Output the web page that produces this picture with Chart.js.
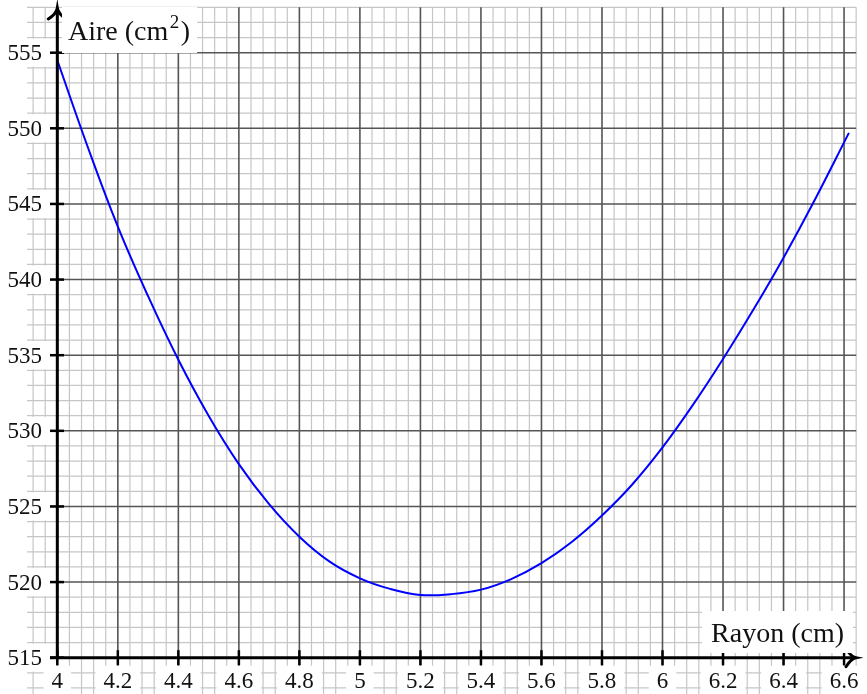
<!DOCTYPE html>
<html lang="fr">
<head>
    <meta charset="UTF-8">
    <title>Aire en fonction du rayon</title>
    <script src="https://cdn.jsdelivr.net/npm/chart.js"></script>
    <style>
        body, html {
            margin: 0;
            padding: 0;
            background: #fff;
            overflow: hidden;
        }
        canvas {
            display: block;
        }
    </style>
</head>
<body>
    <canvas id="aireChart" width="867" height="694"></canvas>

    <script>
        // valeurs
        const rayon = [4, 4.1, 4.2, 4.3, 4.4, 4.5, 4.6, 4.7, 4.8, 4.9, 5, 5.1, 5.2, 5.3, 5.4, 5.5, 5.6, 5.7, 5.8, 5.9, 6, 6.1, 6.2, 6.3, 6.4, 6.5, 6.616];
        const aire = [554.5, 548.8, 543.5, 538.9, 534.7, 531.0, 527.8, 525.15, 523.0, 521.35, 520.25, 519.55, 519.15, 519.2, 519.5, 520.2, 521.25, 522.65, 524.4, 526.45, 528.9, 531.7, 534.75, 538.0, 541.45, 545.15, 549.7];

        const xTicks = ['4', '4.2', '4.4', '4.6', '4.8', '5', '5.2', '5.4', '5.6', '5.8', '6', '6.2', '6.4', '6.6'];
        const yTicks = ['515', '520', '525', '530', '535', '540', '545', '550', '555'];

        const xLabel = 'Rayon (cm)';
        const yLabel = 'Aire (cm';
        const yLabelSup = '2';

        const tickFont = '23px "Liberation Serif", serif';
        const labelFont = '28px "Liberation Serif", serif';
        const supFont = '19px "Liberation Serif", serif';

        // papier millimétré + axes
        const papier = {
            id: 'papier',
            beforeDatasetsDraw(chart) {
                const ctx = chart.ctx;
                const sx = chart.scales.x, sy = chart.scales.y;
                const x0 = sx.getPixelForValue(3.9), x1 = sx.getPixelForValue(6.64);
                const yTop = sy.getPixelForValue(558), yBot = chart.height;

                ctx.save();
                ctx.lineWidth = 1.2;
                ctx.strokeStyle = '#c6c6c6';
                for (let i = 98; i <= 166; i++) {
                    if (i % 5 === 0) continue;
                    const px = sx.getPixelForValue(i * 0.04);
                    ctx.beginPath(); ctx.moveTo(px, yTop); ctx.lineTo(px, yBot); ctx.stroke();
                }
                for (let v = 513; v <= 558; v++) {
                    if (v % 5 === 0) continue;
                    const py = sy.getPixelForValue(v);
                    ctx.beginPath(); ctx.moveTo(x0, py); ctx.lineTo(x1, py); ctx.stroke();
                }

                ctx.lineWidth = 1.6;
                ctx.strokeStyle = '#555';
                xTicks.forEach(t => {
                    const px = sx.getPixelForValue(parseFloat(t));
                    ctx.beginPath(); ctx.moveTo(px, yTop); ctx.lineTo(px, yBot); ctx.stroke();
                });
                yTicks.forEach(t => {
                    const py = sy.getPixelForValue(parseFloat(t));
                    ctx.beginPath(); ctx.moveTo(x0, py); ctx.lineTo(x1, py); ctx.stroke();
                });
                ctx.restore();
            },
            afterDatasetsDraw(chart) {
                const ctx = chart.ctx;
                const sx = chart.scales.x, sy = chart.scales.y;
                const ax = sx.getPixelForValue(4), ay = sy.getPixelForValue(515);
                const topY = 8, rightX = 856;

                ctx.save();
                ctx.font = tickFont;

                // étiquettes de l'axe vertical
                yTicks.forEach(t => {
                    const py = sy.getPixelForValue(parseFloat(t));
                    ctx.fillStyle = '#fff';
                    ctx.fillRect(0, py - 14, 50, 28);
                    ctx.fillStyle = '#111';
                    ctx.textAlign = 'right';
                    ctx.fillText(t, 42, py + 7.5);
                });
                // étiquettes de l'axe horizontal
                xTicks.forEach(t => {
                    const px = sx.getPixelForValue(parseFloat(t));
                    const w = ctx.measureText(t).width;
                    ctx.fillStyle = '#fff';
                    ctx.fillRect(px - w / 2 - 8, ay + 8, w + 16, chart.height - ay);
                    ctx.fillStyle = '#111';
                    ctx.textAlign = 'center';
                    ctx.fillText(t, px, 688);
                });

                // axes
                ctx.strokeStyle = '#000';
                ctx.lineWidth = 3;
                ctx.beginPath();
                ctx.moveTo(ax, ay + 1.5); ctx.lineTo(ax, topY + 2);
                ctx.moveTo(50, ay); ctx.lineTo(rightX - 2, ay);
                ctx.stroke();

                ctx.lineWidth = 2.5;
                yTicks.forEach(t => {
                    const py = sy.getPixelForValue(parseFloat(t));
                    ctx.beginPath(); ctx.moveTo(50, py); ctx.lineTo(64, py); ctx.stroke();
                });
                xTicks.forEach(t => {
                    const px = sx.getPixelForValue(parseFloat(t));
                    ctx.beginPath(); ctx.moveTo(px, ay - 7.5); ctx.lineTo(px, ay + 7.5); ctx.stroke();
                });

                // pointes de flèches
                ctx.lineWidth = 3;
                ctx.lineCap = 'round';
                ctx.beginPath();
                ctx.moveTo(ax - 9, topY + 11);
                ctx.quadraticCurveTo(ax - 1, topY + 6, ax, topY);
                ctx.quadraticCurveTo(ax + 1, topY + 6, ax + 9, topY + 11);
                ctx.moveTo(rightX - 10, ay - 9);
                ctx.quadraticCurveTo(rightX - 5, ay - 1, rightX, ay);
                ctx.quadraticCurveTo(rightX - 5, ay + 1, rightX - 10, ay + 9);
                ctx.stroke();

                // titres des axes
                ctx.font = labelFont;
                ctx.textAlign = 'left';
                const wA = ctx.measureText(yLabel).width;
                ctx.font = supFont;
                const w2 = ctx.measureText(yLabelSup).width;
                ctx.font = labelFont;
                const wP = ctx.measureText(')').width;
                ctx.fillStyle = '#fff';
                ctx.fillRect(62, 7, wA + w2 + wP + 16, 46);
                ctx.fillStyle = '#111';
                ctx.fillText(yLabel, 68, 40);
                ctx.font = supFont;
                ctx.fillText(yLabelSup, 68 + wA + 1.5, 28);
                ctx.font = labelFont;
                ctx.fillText(')', 68 + wA + w2 + 3, 40);

                const wR = ctx.measureText(xLabel).width;
                ctx.fillStyle = '#fff';
                ctx.fillRect(853 - wR - 18, 611, wR + 18, 42);
                ctx.fillStyle = '#111';
                ctx.fillText(xLabel, 853 - wR - 9, 642);
                ctx.restore();
            }
        };

        const ctx = document.getElementById('aireChart').getContext('2d');
        new Chart(ctx, {
            type: 'line',
            data: {
                datasets: [{
                    data: rayon.map((r, i) => ({ x: r, y: aire[i] })),
                    borderColor: '#0000ff',
                    borderWidth: 2,
                    pointRadius: 0,
                    tension: 0.4,
                    fill: false
                }]
            },
            options: {
                responsive: false,
                animation: false,
                events: [],
                layout: { padding: 0 },
                scales: {
                    x: { type: 'linear', min: 3.8106, max: 6.6758, display: false },
                    y: { min: 512.6, max: 558.484, display: false }
                },
                plugins: {
                    legend: { display: false },
                    tooltip: { enabled: false }
                }
            },
            plugins: [papier]
        });
    </script>
</body>
</html>
